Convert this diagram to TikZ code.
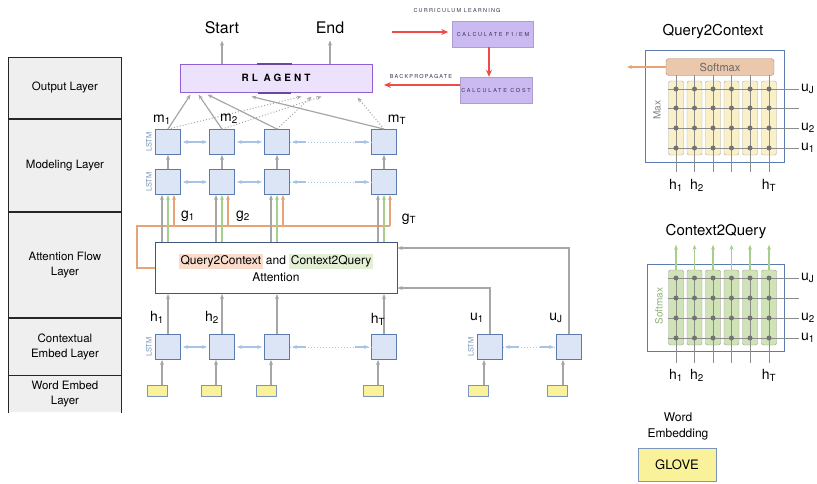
\documentclass[tikz,border=0pt]{standalone}
\usepackage{fontspec}
\setmainfont{TeX Gyre Heros}
\usepackage{tikz}
\usetikzlibrary{arrows.meta, positioning, calc}

\definecolor{lstmfill}{HTML}{DCE5F5}
\definecolor{lstmdraw}{HTML}{5B7AAE}
\definecolor{flowgray}{HTML}{A6A6A6}
\definecolor{flowblue}{HTML}{A9C3E6}
\definecolor{flowgreen}{HTML}{A5CF8A}
\definecolor{floworange}{HTML}{E9A476}
\definecolor{agentfill}{HTML}{EDE2FB}
\definecolor{agentdraw}{HTML}{8E5FD6}
\definecolor{calcfill}{HTML}{CBBAF1}
\definecolor{redline}{HTML}{EE4B4B}
\definecolor{layerfill}{HTML}{EFEFEF}
\definecolor{wordfill}{HTML}{FAF29B}
\definecolor{maxfill}{HTML}{FAF0C8}
\definecolor{softfill}{HTML}{EBC7AC}
\definecolor{c2qfill}{HTML}{CFE3B6}
\definecolor{qchl}{HTML}{F9DCCB}
\definecolor{cqhl}{HTML}{E3F0D6}
\definecolor{darktext}{HTML}{353550}

\begin{document}
\begin{tikzpicture}[
  x=1pt, y=-1pt,
  layer/.style={fill=layerfill, draw=black!85, line width=0.9pt, minimum width=113pt, inner sep=0pt, align=center, font=\fontsize{11.5}{15}\selectfont},
  lstm/.style={draw=lstmdraw, fill=lstmfill, line width=0.9pt, minimum size=25pt, inner sep=0pt},
  wordbox/.style={draw=lstmdraw!80, fill=wordfill, line width=0.6pt, minimum width=20pt, minimum height=11pt, inner sep=0pt},
  lstmlab/.style={rotate=90, anchor=south, text=lstmdraw!80, font=\fontsize{7.5}{8}\selectfont, inner sep=1pt},
  agentbox/.style={draw=agentdraw, fill=agentfill, line width=1pt, minimum width=192pt, minimum height=28pt, font=\fontsize{10}{12}\selectfont\bfseries\addfontfeature{LetterSpace=30}},
  calcbox/.style={fill=calcfill, draw=calcfill!85!black, line width=0.4pt, minimum height=26pt, inner sep=0pt, text=darktext, font=\fontsize{5.5}{6}\selectfont\addfontfeature{LetterSpace=32}},
  tinytext/.style={text=darktext, font=\fontsize{5.5}{6}\selectfont\addfontfeature{LetterSpace=22}},
  var/.style={font=\fontsize{14}{16}\selectfont, inner sep=0pt},
  big/.style={font=\fontsize{16}{18}\selectfont},
  garrow/.style={flowgray, line width=1.2pt, -{Stealth[length=5pt, width=4pt]}},
  gdots/.style={flowgray, line width=1pt, dotted, -{Stealth[length=5pt, width=4pt]}},
  barrow/.style={flowblue, line width=1.3pt, {Stealth[length=5pt, width=4pt]}-{Stealth[length=5pt, width=4pt]}},
  bstub/.style={flowblue, line width=1.3pt},
  bdots/.style={flowblue, line width=1pt, dotted},
  grarrow/.style={flowgreen, line width=1.2pt, -{Stealth[length=5pt, width=4pt]}},
  orarrow/.style={floworange, line width=1.2pt, -{Stealth[length=5pt, width=4pt]}},
  oline/.style={floworange, line width=1.2pt},
  redarrow/.style={redline, line width=1.3pt, -{Stealth[length=7pt, width=6pt]}},
  attnbox/.style={draw=lstmdraw!70!black, line width=1pt, minimum width=242pt, minimum height=51pt, align=center, font=\fontsize{12}{17}\selectfont},
  panel/.style={draw=lstmdraw, line width=1pt, inner sep=0pt},
  maxcol/.style={fill=maxfill, draw=black!35, rounded corners=2pt, minimum width=15pt, minimum height=74pt, inner sep=0pt},
  c2qcol/.style={maxcol, fill=c2qfill, draw=black!40, minimum height=75pt},
  gridline/.style={black!45, line width=0.8pt},
  gdot/.style={fill=black!55},
  ptitle/.style={font=\fontsize{15}{17}\selectfont}
]
  \useasboundingbox (0,0) rectangle (817,483);

  % Layer column
  \node[layer, minimum height=61pt, anchor=north west] (outl) at (8,57) {Output Layer};
  \node[layer, minimum height=92pt, anchor=north west] (modl) at (outl.south west) {Modeling Layer};
  \node[layer, minimum height=105pt, anchor=north west] (attl) at (modl.south west) {Attention Flow\\Layer};
  \node[layer, minimum height=57pt, anchor=north west] (cel) at (attl.south west) {Contextual\\Embed Layer};
  \node[layer, draw=none, minimum height=36pt, anchor=north west] (wel) at (cel.south west) {Word Embed\\Layer};
  \draw[black!85, line width=0.9pt] (wel.north west) -- (wel.south west) (wel.north east) -- (wel.south east);

  % RL agent and outputs
  \node[agentbox] (agent) at (276,78) {RL AGENT};
  \draw[agentdraw!75!black, line width=2pt] ($(agent.north)+(-19,0)$) -- ++(35,0);
  \draw[agentdraw!75!black, line width=2pt] ($(agent.south)+(-18,0)$) -- ++(33,0);
  \node[big] (start) at (222,28) {Start};
  \node[big] (end) at (330,28) {End};
  \draw[garrow] (agent.north -| start) -- ([yshift=-3pt]start.south);
  \draw[garrow] (agent.north -| end) -- ([yshift=-3pt]end.south);

  % Reward side
  \node[tinytext] (curr) at (457,10) {CURRICULUM LEARNING};
  \node[calcbox, minimum width=81pt] (f1) at (493,34) {CALCULATE F1/EM};
  \node[calcbox, minimum width=72pt] (cost) at (496,90) {CALCULATE COST};
  \node[tinytext] (bp) at (421,76) {BACKPROPAGATE};
  \coordinate (currin) at (392,32);
  \coordinate (bpout) at (384,85);
  \draw[redarrow] (currin) -- ([xshift=-4pt, yshift=2pt]f1.west);
  \draw[redarrow] ([xshift=-4pt]f1.south) -- ([xshift=-4pt]f1.south |- cost.north);
  \draw[redarrow] ([yshift=5pt]cost.west) -- (bpout);

  % LSTM cells, one column per word
  \foreach \i/\x in {1/168, 2/222, 3/277, 4/384} {
    \node[lstm] (mt\i) at (\x,142) {};
    \node[lstm] (mb\i) at (\x,182) {};
    \node[lstm] (c\i) at (\x,347) {};
    \node[wordbox] (w\i) at (\x-11,391) {};
    \coordinate (wa\i) at ($(w\i.north)+(5,0)$);
    \draw[garrow] (wa\i) -- (wa\i |- c\i.south);
    \draw[garrow] (mb\i.north) -- (mt\i.south);
  }
  \foreach \i/\x in {1/490, 2/569} {
    \node[lstm] (q\i) at (\x,347) {};
    \node[wordbox] (qw\i) at (\x-12,391) {};
    \coordinate (qa\i) at ($(qw\i.north)+(6,0)$);
    \draw[garrow] (qa\i) -- (qa\i |- q\i.south);
  }
  \foreach \n in {mt1, mb1, c1, q1} {
    \node[lstmlab] at ([xshift=-2pt]\n.west) {LSTM};
  }

  % Bidirectional links
  \foreach \r in {mt, mb, c} {
    \draw[barrow] ([xshift=2pt]\r1.east) -- ([xshift=-2pt]\r2.west);
    \draw[barrow] ([xshift=2pt]\r2.east) -- ([xshift=-2pt]\r3.west);
    \draw[bdots] (\r3.east) -- (\r4.west);
    \draw[bstub, -{Stealth[length=5pt, width=4pt]}] ([xshift=16pt]\r3.east) -- ([xshift=2pt]\r3.east);
    \draw[bstub, -{Stealth[length=5pt, width=4pt]}] ([xshift=-16pt]\r4.west) -- ([xshift=-2pt]\r4.west);
  }
  \draw[bdots] (q1.east) -- (q2.west);
  \draw[bstub, -{Stealth[length=5pt, width=4pt]}] ([xshift=16pt]q1.east) -- ([xshift=2pt]q1.east);
  \draw[bstub, -{Stealth[length=5pt, width=4pt]}] ([xshift=-16pt]q2.west) -- ([xshift=-2pt]q2.west);

  % Modeling outputs into the agent
  \draw[garrow] (mt1.north) -- ($(agent.south west)+(11,2)$);
  \draw[garrow] (mt2.north) -- ($(agent.south west)+(19,2)$);
  \draw[garrow] (mt3.north) -- ($(agent.south west)+(28,2)$);
  \draw[garrow] (mt4.north) -- ($(agent.south west)+(72,4)$);
  \draw[gdots] (mt1.north) -- ($(agent.south west)+(122,4)$);
  \draw[gdots] (mt2.north) -- ($(agent.south west)+(142,4)$);
  \draw[gdots] (mt3.north) -- ($(agent.south west)+(132,4)$);
  \draw[gdots] (mt4.north) -- ($(agent.south west)+(178,5)$);
  \node[var] at (162,120) {m\textsubscript{1}};
  \node[var] at (229,119) {m\textsubscript{2}};
  \node[var] at (397,120) {m\textsubscript{T}};

  % Attention flow
  \node[attnbox] (attn) at (276,268) {{\setlength\fboxsep{1.5pt}\colorbox{qchl}{Query2Context} and \colorbox{cqhl}{Context2Query}}\\Attention};
  \coordinate (obus) at (137,226);
  \draw[oline] (attn.west) -- (obus |- attn.west) -- (obus) -- ($(mb4.south |- obus)+(6,0)$);
  \foreach \i in {1,...,4} {
    \draw[garrow] ($(mb\i.south |- attn.north)+(-6,0)$) -- ($(mb\i.south)+(-6,0)$);
    \draw[grarrow] (mb\i.south |- attn.north) -- (mb\i.south);
    \draw[orarrow] ($(mb\i.south |- obus)+(6,0)$) -- ($(mb\i.south)+(6,0)$);
    \draw[garrow] (c\i.north) -- (c\i.north |- attn.south);
  }
  \draw[garrow] (q1.north) |- ([yshift=-20pt]attn.east);
  \draw[garrow] (q2.north) |- ([yshift=20pt]attn.east);
  \node[var] at (188,216) {g\textsubscript{1}};
  \node[var] at (243,216) {g\textsubscript{2}};
  \node[var] at (409,219) {g\textsubscript{T}};
  \node[var] at (157,317) {h\textsubscript{1}};
  \node[var] at (212,317) {h\textsubscript{2}};
  \node[var] at (378,319) {h\textsubscript{T}};
  \node[var] at (477,318) {u\textsubscript{1}};
  \node[var] at (556,318) {u\textsubscript{J}};

  % Query2Context panel
  \node[ptitle] (qctitle) at (713,32) {Query2Context};
  \node[panel, minimum width=139pt, minimum height=112pt] (qcpanel) at (714.5,106) {};
  \node[fill=softfill, draw=softfill!70!black, rounded corners=3pt, minimum width=108pt, minimum height=17pt, inner sep=0pt, text=black!60, font=\fontsize{11}{12}\selectfont] (soft) at (720,67) {Softmax};
  \coordinate (qcout) at (627,67);
  \draw[orarrow] (soft.west) -- (qcout);
  \node[rotate=90, text=black!50, font=\fontsize{10}{12}\selectfont] (maxlab) at (657,110) {Max};
  \foreach \i/\x in {1/676, 2/694.5, 3/713, 4/731.5, 5/750, 6/769} {
    \node[maxcol] (qc\i) at (\x,118) {};
    \draw[gridline] (\x,75) -- (\x,172);
  }
  \foreach \y in {89, 108, 128, 148} {
    \draw[gridline] (668,\y) -- (799,\y);
    \foreach \x in {676, 694.5, 713, 731.5, 750, 769} {
      \fill[gdot] (\x,\y) circle (2.5);
    }
  }
  \node[var, anchor=west] at (801,89) {u\textsubscript{J}};
  \node[var, anchor=west] at (801,128) {u\textsubscript{2}};
  \node[var, anchor=west] at (801,148) {u\textsubscript{1}};
  \node[var] at (676,185) {h\textsubscript{1}};
  \node[var] at (697,185) {h\textsubscript{2}};
  \node[var] at (769,185) {h\textsubscript{T}};

  % Context2Query panel
  \node[ptitle] (cqtitle) at (716,232) {Context2Query};
  \node[panel, minimum width=137pt, minimum height=87pt] (cqpanel) at (715.5,307.5) {};
  \node[rotate=90, text=flowgreen!85!black, font=\fontsize{10}{12}\selectfont] (smlab) at (659,306) {Softmax};
  \foreach \i/\x in {1/676, 2/694.5, 3/713, 4/731.5, 5/750, 6/769} {
    \node[c2qcol] (cq\i) at (\x,307.5) {};
    \draw[gridline] (\x,278) -- (\x,363);
    \draw[grarrow] (cq\i.north) -- ++(0,-25);
  }
  \foreach \y in {278, 298, 318, 338} {
    \draw[gridline] (668,\y) -- (799,\y);
    \foreach \x in {676, 694.5, 713, 731.5, 750, 769} {
      \fill[gdot] (\x,\y) circle (2.5);
    }
  }
  \node[var, anchor=west] at (801,278) {u\textsubscript{J}};
  \node[var, anchor=west] at (801,318) {u\textsubscript{2}};
  \node[var, anchor=west] at (801,338) {u\textsubscript{1}};
  \node[var] at (676,375) {h\textsubscript{1}};
  \node[var] at (697,375) {h\textsubscript{2}};
  \node[var] at (769,375) {h\textsubscript{T}};

  % Word embedding legend
  \node[align=center, font=\fontsize{12}{16}\selectfont] (weltxt) at (678,426) {Word\\Embedding};
  \node[draw=lstmdraw!80, fill=wordfill, line width=0.8pt, minimum width=78pt, minimum height=33pt, font=\fontsize{13}{15}\selectfont] (glove) at (677,465) {GLOVE};
\end{tikzpicture}
\end{document}
